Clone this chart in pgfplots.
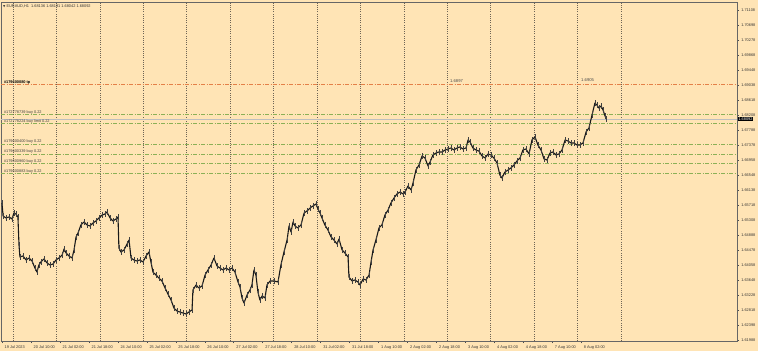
\documentclass[border=0pt]{standalone}
\usepackage{pgfplots}
\pgfplotsset{compat=1.18}
\usepackage{pgfplotstable}
\usepackage{fontspec}
\setmainfont{Liberation Sans}
\newfontfamily\symfont{DejaVu Sans}
\definecolor{bgc}{RGB}{255,228,181}
\definecolor{tpc}{RGB}{228,128,72}
\definecolor{grc}{RGB}{140,176,86}
\definecolor{bidc}{RGB}{190,190,190}
\definecolor{sepc}{RGB}{110,100,85}
\pgfplotstableread{
x y
0 1.65774
0.6 1.65414
2.2 1.65359
3.9 1.65387
5.5 1.65331
6.6 1.65497
7.7 1.65469
8.8 1.65387
9.4 1.64613
9.9 1.64281
11.6 1.64309
13.3 1.64198
14.9 1.64253
16.6 1.64170
18.2 1.63977
19.3 1.63866
20.4 1.64060
21.5 1.64143
23.2 1.64226
24.9 1.64115
26.5 1.64060
28.2 1.64087
29.8 1.64198
31.5 1.64253
33.2 1.64336
34.3 1.64502
35.4 1.64392
37.0 1.64309
38.7 1.64253
39.8 1.64474
40.9 1.64834
42.0 1.64944
43.6 1.65165
45.3 1.65248
47.0 1.65165
48.6 1.65138
50.3 1.65221
51.9 1.65276
53.6 1.65359
55.3 1.65442
56.9 1.65469
58.0 1.65525
59.7 1.65359
61.3 1.65276
63.0 1.65331
64.1 1.65387
64.6 1.64530
65.7 1.64419
67.4 1.64474
69.1 1.64640
70.2 1.64751
71.3 1.64253
72.9 1.64198
74.6 1.64170
76.2 1.64198
77.9 1.64143
79.6 1.64309
81.2 1.64419
82.3 1.64143
83.4 1.63866
85.1 1.63783
86.7 1.63701
88.4 1.63618
90.1 1.63424
91.7 1.63258
93.4 1.63092
95.0 1.62871
96.7 1.62788
98.3 1.62761
100.0 1.62733
101.7 1.62705
103.3 1.62761
105.0 1.62816
105.5 1.63369
107.2 1.63507
108.8 1.63424
110.5 1.63479
112.2 1.63783
113.8 1.63922
115.5 1.64060
117.1 1.64253
118.8 1.64032
120.4 1.63977
122.1 1.63922
123.8 1.63977
125.4 1.63922
127.1 1.63977
128.7 1.63866
130.4 1.63590
131.5 1.63452
132.6 1.63148
133.7 1.63009
135.4 1.63231
137.0 1.63369
138.1 1.63507
139.2 1.63922
140.3 1.63783
141.4 1.63314
142.5 1.63092
143.7 1.63203
145.3 1.63148
146.4 1.63507
148.1 1.63618
150.3 1.63618
152.5 1.63590
154.1 1.64060
155.8 1.64419
157.5 1.64751
158.6 1.65138
159.7 1.64972
160.8 1.65248
161.9 1.65138
163.5 1.65083
165.2 1.65165
166.9 1.65497
168.5 1.65552
170.2 1.65635
171.8 1.65691
173.5 1.65746
174.6 1.65608
175.7 1.65497
176.8 1.65359
178.4 1.65165
180.1 1.65027
181.8 1.64834
183.4 1.64751
185.1 1.64640
186.2 1.64778
187.9 1.64474
189.5 1.64392
191.2 1.64281
191.7 1.63728
193.4 1.63618
195.0 1.63645
196.7 1.63590
197.8 1.63507
199.5 1.63673
201.1 1.63645
202.8 1.63783
203.9 1.64143
205.0 1.64474
206.6 1.64751
208.3 1.65083
209.9 1.65165
211.6 1.65442
213.3 1.65580
214.9 1.65774
216.6 1.65912
218.2 1.66022
219.9 1.66078
221.6 1.66022
222.7 1.66078
224.3 1.66243
226.0 1.66133
227.1 1.66326
228.7 1.66686
230.4 1.66824
232.1 1.67073
233.7 1.67017
235.4 1.66796
236.5 1.66907
238.1 1.67100
239.8 1.67156
241.4 1.67183
243.1 1.67183
244.8 1.67238
246.4 1.67266
248.1 1.67294
249.7 1.67238
251.4 1.67294
253.0 1.67321
254.7 1.67266
256.4 1.67294
257.5 1.67515
258.6 1.67460
260.2 1.67294
261.9 1.67238
263.5 1.67211
265.2 1.67073
266.9 1.67017
268.5 1.67128
270.2 1.67100
271.8 1.67017
273.5 1.66879
275.1 1.66547
276.2 1.66465
277.9 1.66630
279.6 1.66686
281.2 1.66741
282.9 1.66824
284.5 1.66934
286.2 1.67017
287.8 1.67238
289.5 1.67266
291.2 1.67128
292.8 1.67515
294.5 1.67598
296.1 1.67377
297.8 1.67238
299.5 1.66990
301.1 1.66962
302.8 1.67156
304.4 1.67183
306.1 1.67100
307.7 1.67128
309.4 1.67238
311.1 1.67515
312.7 1.67487
314.4 1.67432
316.0 1.67432
317.7 1.67377
319.3 1.67377
321.0 1.67432
322.7 1.67736
324.3 1.67847
326.0 1.68206
327.6 1.68537
328.7 1.68482
329.8 1.68399
331.0 1.68455
332.1 1.68344
333.2 1.68178
333.8 1.68095
}\pricedata
\begin{document}
\begin{tikzpicture}
\fill[bgc] (-1bp,-10bp) rectangle (757bp,341bp);
\begin{axis}[
  at={(0,0)}, anchor=south west, scale only axis,
  width=736bp, height=339bp,
  xmin=-0.55, xmax=406.1, ymin=1.61959, ymax=1.71329,
  axis background/.style={fill=bgc},
  axis line style={draw=black!60, line width=0.5pt},
  clip=false,
  tick align=outside, major tick length=2bp,
  tick style={black!70, line width=0.4pt},
  xtick pos=left, ytick pos=right, yticklabel pos=right,
  every tick label/.append style={font=\fontsize{3.9}{4.5}\selectfont, text=black!80},
  xtick={0,16,...,320},
  xticklabels={19 Jul 2023,20 Jul 10:00,21 Jul 02:00,21 Jul 18:00,24 Jul 10:00,25 Jul 02:00,25 Jul 18:00,26 Jul 10:00,27 Jul 02:00,27 Jul 18:00,28 Jul 10:00,31 Jul 02:00,31 Jul 18:00,1 Aug 10:00,2 Aug 02:00,2 Aug 18:00,3 Aug 10:00,4 Aug 02:00,4 Aug 18:00,7 Aug 10:00,8 Aug 02:00},
  xticklabel style={anchor=north west, xshift=-0.8bp, yshift=1bp},
  ytick={1.61988,1.62398,1.62818,1.63228,1.63648,1.64058,1.64478,1.64888,1.65308,1.65718,1.66138,1.66548,1.66958,1.67378,1.67788,1.68208,1.68618,1.69038,1.69448,1.69868,1.70278,1.70698,1.71108},
  yticklabels={1.61988,1.62398,1.62818,1.63228,1.63648,1.64058,1.64478,1.64888,1.65308,1.65718,1.66138,1.66548,1.66958,1.67378,1.67788,1.68208,1.68618,1.69038,1.69448,1.69868,1.70278,1.70698,1.71108},
  yticklabel style={anchor=west, xshift=-1.2bp},
  extra x ticks={6,30,54,78,102,126,150,174,198,222,246,270,294,318,342},
  extra x tick labels={},
  extra x tick style={grid=major, major tick length=0pt,
     major grid style={draw=sepc, line width=0.45pt, dash pattern=on 0.8pt off 1.4pt}},
]
% order level lines
\addplot[draw=tpc, line width=0.6pt, dash pattern=on 4bp off 1.5bp on 1bp off 1.5bp] coordinates {(-0.55,1.69054) (406.1,1.69054)};
\addplot[draw=grc, line width=0.55pt, dash pattern=on 4bp off 1.5bp on 1bp off 1.5bp] coordinates {(-0.55,1.68225) (406.1,1.68225)};
\addplot[draw=grc, line width=0.55pt, dash pattern=on 4bp off 1.5bp on 1bp off 1.5bp] coordinates {(-0.55,1.67977) (406.1,1.67977)};
\addplot[draw=grc, line width=0.55pt, dash pattern=on 4bp off 1.5bp on 1bp off 1.5bp] coordinates {(-0.55,1.67404) (406.1,1.67404)};
\addplot[draw=grc, line width=0.55pt, dash pattern=on 4bp off 1.5bp on 1bp off 1.5bp] coordinates {(-0.55,1.67128) (406.1,1.67128)};
\addplot[draw=grc, line width=0.55pt, dash pattern=on 4bp off 1.5bp on 1bp off 1.5bp] coordinates {(-0.55,1.66871) (406.1,1.66871)};
\addplot[draw=grc, line width=0.55pt, dash pattern=on 4bp off 1.5bp on 1bp off 1.5bp] coordinates {(-0.55,1.66594) (406.1,1.66594)};
\addplot[draw=bidc, line width=0.4pt] coordinates {(-0.55,1.68092) (406.1,1.68092)};
% price
\addplot[black!90, line width=1.1pt, line join=round, no markers,
  error bars/.cd, y dir=both, y fixed=0.0009, error mark=none,
  error bar style={line width=0.55pt, black!75}] table[x=x, y=y] {\pricedata};
% labels
\node[anchor=base west, inner sep=0pt, font=\fontsize{3.9}{4.5}\selectfont\bfseries, text=black] at (axis cs:1,1.69054) [yshift=1.2bp] {\#179600080 tp};
\node[anchor=base west, inner sep=0pt, font=\fontsize{3.9}{4.5}\selectfont, text=black!75] at (axis cs:1,1.68225) [yshift=1.2bp] {\#172778739 buy 0.22};
\node[anchor=base west, inner sep=0pt, font=\fontsize{3.9}{4.5}\selectfont, text=black!75] at (axis cs:1,1.67977) [yshift=1.2bp] {\#172778224 buy limit 0.22};
\node[anchor=base west, inner sep=0pt, font=\fontsize{3.9}{4.5}\selectfont, text=black!75] at (axis cs:1,1.67404) [yshift=1.2bp] {\#179600400 buy 0.22};
\node[anchor=base west, inner sep=0pt, font=\fontsize{3.9}{4.5}\selectfont, text=black!75] at (axis cs:1,1.67128) [yshift=1.2bp] {\#179600339 buy 0.22};
\node[anchor=base west, inner sep=0pt, font=\fontsize{3.9}{4.5}\selectfont, text=black!75] at (axis cs:1,1.66871) [yshift=1.2bp] {\#179600960 buy 0.22};
\node[anchor=base west, inner sep=0pt, font=\fontsize{3.9}{4.5}\selectfont, text=black!75] at (axis cs:1,1.66594) [yshift=1.2bp] {\#179600883 buy 0.22};
\node[anchor=base west, inner sep=0pt, font=\fontsize{4.2}{5}\selectfont, text=black!70] at (axis cs:247.5,1.69054) [yshift=1.5bp] {1.6897};
\node[anchor=base west, inner sep=0pt, font=\fontsize{4.2}{5}\selectfont, text=black!70] at (axis cs:319.9,1.69054) [yshift=2.5bp] {1.6905};
\node[anchor=west, fill=black, text=white, inner xsep=0.8bp, inner ysep=0.7bp, font=\fontsize{3.9}{4.5}\selectfont] at (axis cs:406.1,1.68092) [xshift=0.5bp] {1.68092};
\node[anchor=north west, inner sep=0pt, font=\fontsize{3.9}{4.5}\selectfont, text=black!80] at (rel axis cs:0,1) [xshift=2bp, yshift=-3bp] {{\symfont\fontsize{3}{4}\selectfont ▼}\ EURAUD,H1\ \ 1.68136 1.68191 1.68042 1.68092};
\end{axis}
\pgfresetboundingbox
\path[use as bounding box] (-1bp,-10bp) rectangle (757bp,341bp);
\end{tikzpicture}
\end{document}
